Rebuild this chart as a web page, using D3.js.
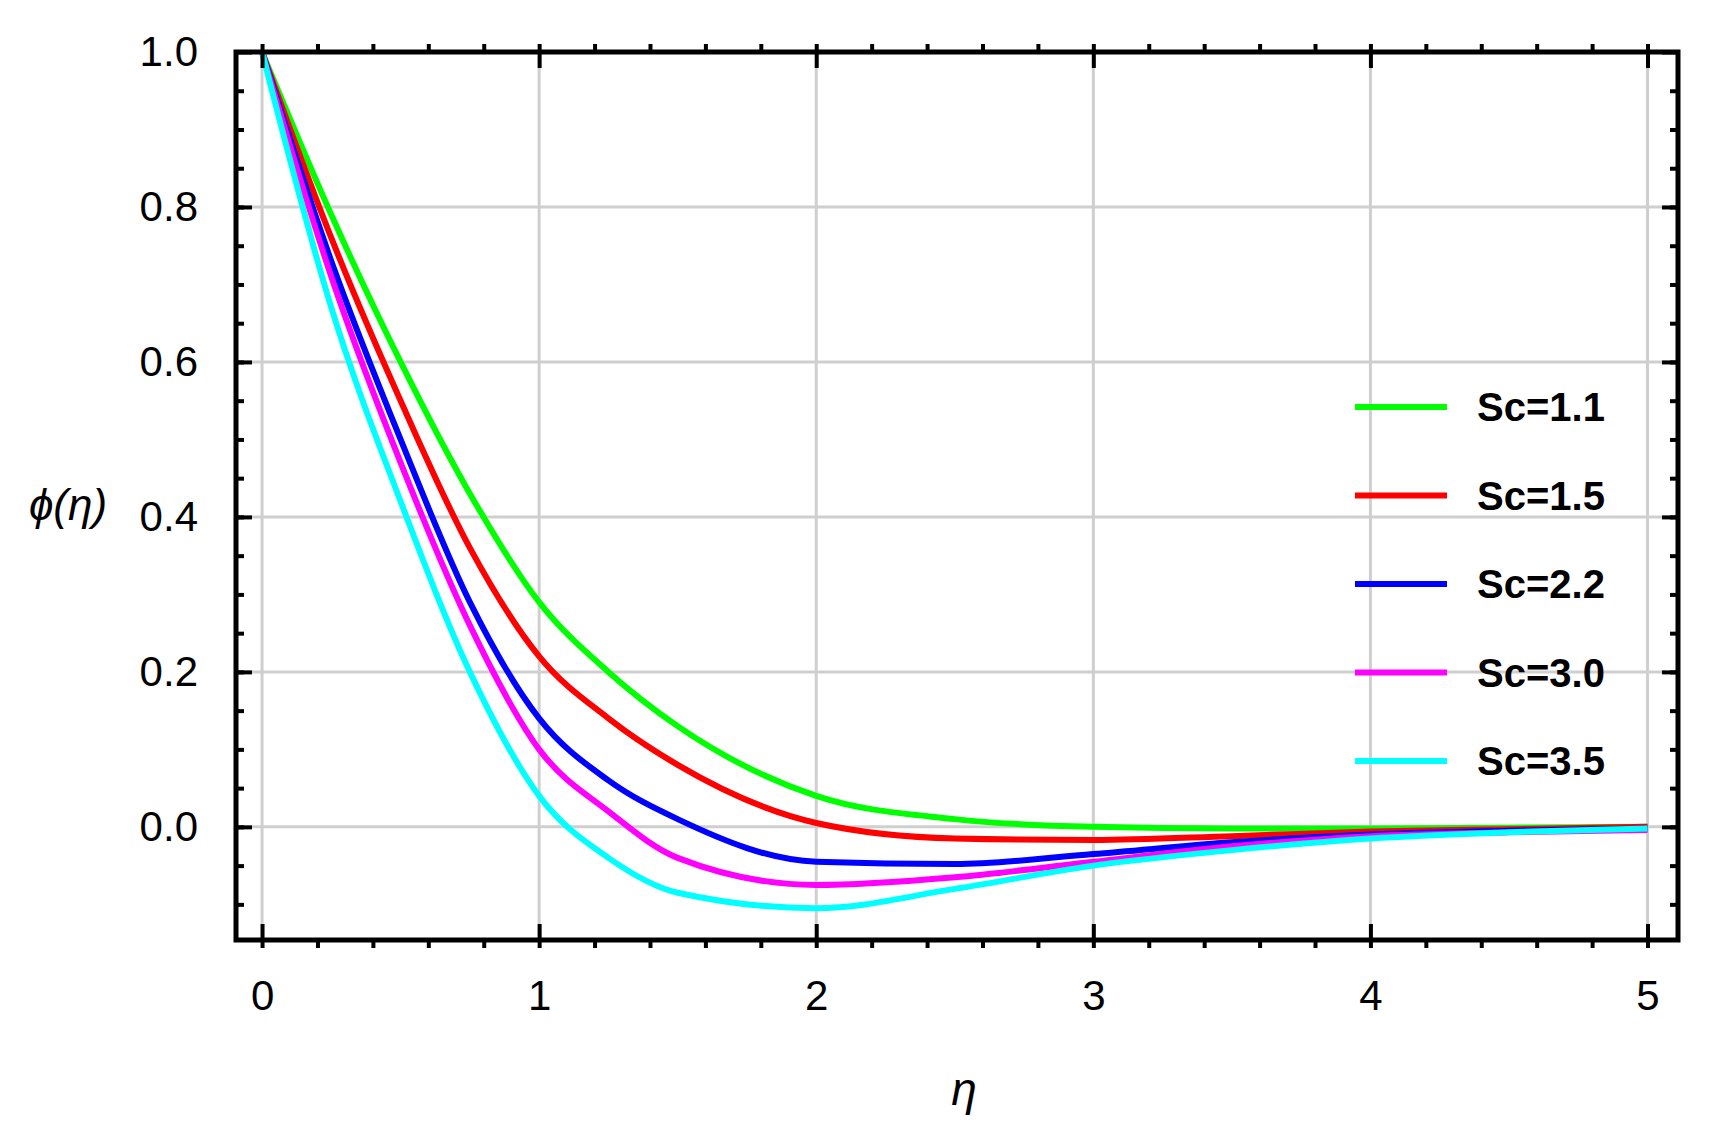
<!DOCTYPE html>
<html><head><meta charset="utf-8">
<script src="https://cdn.jsdelivr.net/npm/d3@7"></script>
<style>body{margin:0;background:#fff}</style>
</head><body>
<svg id="chart" width="1716" height="1140"></svg>
<script>
// data
const eta = [0, 0.25, 0.5, 0.75, 1, 1.25, 1.5, 2, 2.5, 3, 3.5, 4, 4.5, 5];
const labels = ["Sc=1.1", "Sc=1.5", "Sc=2.2", "Sc=3.0", "Sc=3.5"];
const colors = ["#00ff00", "#ff0000", "#0000ff", "#ff00ff", "#00ffff"];
const sc11 = [1, 0.79, 0.6, 0.43, 0.29, 0.2, 0.13, 0.04, 0.01, 0.0, -0.002, -0.002, -0.001, 0];
const sc15 = [1, 0.76, 0.55, 0.36, 0.22, 0.14, 0.08, 0.005, -0.015, -0.017, -0.012, -0.006, -0.003, 0];
const sc22 = [1, 0.73, 0.5, 0.29, 0.14, 0.06, 0.01, -0.045, -0.048, -0.035, -0.02, -0.01, -0.005, -0.002];
const sc30 = [1, 0.71, 0.47, 0.26, 0.1, 0.02, -0.04, -0.075, -0.065, -0.045, -0.025, -0.012, -0.007, -0.004];
const sc35 = [1, 0.67, 0.42, 0.2, 0.04, -0.04, -0.085, -0.105, -0.08, -0.05, -0.03, -0.015, -0.007, -0.002];
const series = [sc11, sc15, sc22, sc30, sc35];
const xTicks = [0, 1, 2, 3, 4, 5];
const yTicks = [0, 0.2, 0.4, 0.6, 0.8, 1.0];

const svg = d3.select("#chart");
const L = 236, R = 1678, T = 52, B = 940;
const x = d3.scaleLinear().domain([-0.094, 5.11]).range([L, R]);
const y = d3.scaleLinear().domain([-0.146, 1.0]).range([B, T]);

// grid
svg.append("g").selectAll("line").data(xTicks).join("line")
  .attr("x1", d => x(d)).attr("x2", d => x(d)).attr("y1", T).attr("y2", B)
  .attr("stroke", "#cfcfcf").attr("stroke-width", 3);
svg.append("g").selectAll("line").data(yTicks).join("line")
  .attr("x1", L).attr("x2", R).attr("y1", d => y(d)).attr("y2", d => y(d))
  .attr("stroke", "#cfcfcf").attr("stroke-width", 3);

// curves
const line = d3.line().x((d, i) => x(eta[i])).y(d => y(d)).curve(d3.curveMonotoneX);
svg.append("g").selectAll("path").data(series).join("path")
  .attr("d", line).attr("fill", "none")
  .attr("stroke", (d, i) => colors[i]).attr("stroke-width", 6);

// axes (ticks inside frame)
const font = "Arial, 'Liberation Sans', sans-serif";
function tickAxes(axis, pos) {
  const g = svg.append("g").attr("transform", pos).call(axis);
  g.select(".domain").remove();
  g.selectAll("line").attr("stroke", "#000").attr("stroke-width", 4);
  g.selectAll("text").attr("font-family", font).attr("font-size", 42).attr("fill", "#000");
  return g;
}
const xMinor = d3.range(0, 5.01, 0.2);
const yMinor = d3.range(-0.1, 1.0, 0.05);
tickAxes(d3.axisTop(x).tickValues(xMinor).tickSize(-8).tickFormat(""), `translate(0,${B})`);
tickAxes(d3.axisTop(x).tickValues(xMinor).tickSize(8).tickFormat(""), `translate(0,${T})`);
tickAxes(d3.axisRight(y).tickValues(yMinor).tickSize(8).tickFormat(""), `translate(${L},0)`);
tickAxes(d3.axisLeft(y).tickValues(yMinor).tickSize(8).tickFormat(""), `translate(${R},0)`);
const xb = tickAxes(d3.axisBottom(x).tickValues(xTicks).tickSize(-16).tickPadding(40).tickFormat(d3.format("d")), `translate(0,${B})`);
tickAxes(d3.axisTop(x).tickValues(xTicks).tickSize(-16).tickFormat(""), `translate(0,${T})`);
tickAxes(d3.axisLeft(y).tickValues(yTicks).tickSize(-16).tickPadding(38).tickFormat(d3.format(".1f")), `translate(${L},0)`);
tickAxes(d3.axisRight(y).tickValues(yTicks).tickSize(-16).tickFormat(""), `translate(${R},0)`);

svg.append("rect").attr("x", L).attr("y", T).attr("width", R - L).attr("height", B - T)
  .attr("fill", "none").attr("stroke", "#000").attr("stroke-width", 5);

// axis titles
svg.append("text").attr("x", 964).attr("y", 1105).attr("text-anchor", "middle")
  .attr("font-family", font).attr("font-size", 46).attr("font-style", "italic").text("η");
svg.append("text").attr("x", 68).attr("y", 520).attr("text-anchor", "middle")
  .attr("font-family", font).attr("font-size", 44).attr("font-style", "italic").text("ϕ(η)");

// legend
const leg = svg.append("g").selectAll("g").data(labels).join("g")
  .attr("transform", (d, i) => `translate(1355,${407 + i * 88.5})`);
leg.append("line").attr("x1", 0).attr("x2", 92).attr("stroke", (d, i) => colors[i]).attr("stroke-width", 6);
leg.append("text").attr("x", 122).attr("y", 14).attr("font-family", font)
  .attr("font-size", 40).attr("font-weight", "bold").text(d => d);
</script>
</body></html>
